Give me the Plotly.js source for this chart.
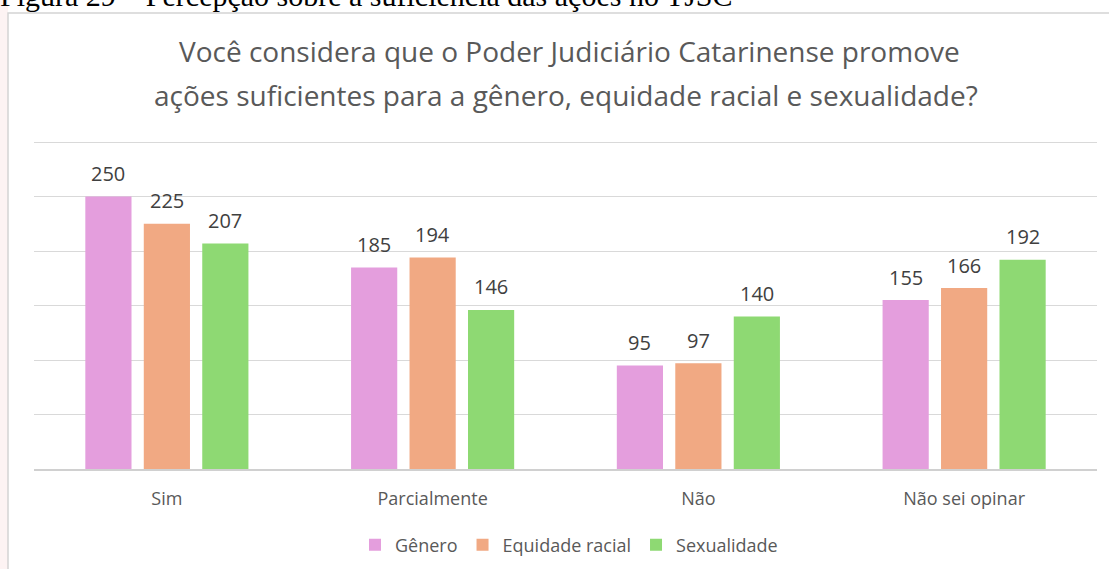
<!DOCTYPE html>
<html>
<head>
<meta charset="utf-8">
<script src="https://cdn.plot.ly/plotly-3.0.1.min.js"></script>
<style>
  html, body { margin: 0; padding: 0; background: #ffffff; }
  #grafico { width: 1109px; height: 569px; }
</style>
</head>
<body>
<div id="grafico"></div>
<script>
// dados
var categorias = ['Sim', 'Parcialmente', 'Não', 'Não sei opinar'];
var genero = [250, 185, 95, 155];
var equidadeRacial = [225, 194, 97, 166];
var sexualidade = [207, 146, 140, 192];

var series = [
    { name: 'Gênero', values: genero, color: '#E49EDD' },
    { name: 'Equidade racial', values: equidadeRacial, color: '#F1A983' },
    { name: 'Sexualidade', values: sexualidade, color: '#8ED973' }
];

var corTexto = '#595959';
var fonte = 'Open Sans, Noto Sans, sans-serif';
var bargap = 0.34;

// plot area in pixels: x 34..1097, y 141..469
var W = 1109, H = 569;
var margem = { l: 34, r: 12, t: 141, b: 100 };
var plotW = W - margem.l - margem.r;
var plotH = H - margem.t - margem.b;
function px2x(px) { return (px - margem.l) / plotW; }
function px2y(py) { return (H - margem.b - py) / plotH; }

var data = series.map(function (s) {
    return {
        type: 'bar',
        name: s.name,
        x: categorias,
        y: s.values,
        marker: { color: s.color, line: { width: 0 } },
        hoverinfo: 'x+y+name'
    };
});

// rótulos de valor acima das barras
var anotacoes = [];
var slot = (1 - bargap) / series.length;
series.forEach(function (s, k) {
    s.values.forEach(function (v, j) {
        anotacoes.push({
            x: j + (k - (series.length - 1) / 2) * slot,
            y: v,
            xref: 'x', yref: 'y',
            text: String(v),
            showarrow: false,
            yanchor: 'middle',
            yshift: 23,
            font: { family: fonte, size: 20, color: '#404040' }
        });
    });
});

// título em duas linhas
anotacoes.push({
    xref: 'paper', yref: 'paper', x: px2x(569), y: px2y(51),
    text: 'Você considera que o Poder Judiciário Catarinense promove',
    showarrow: false, xanchor: 'center', yanchor: 'middle',
    font: { family: fonte, size: 28, color: corTexto }
});
anotacoes.push({
    xref: 'paper', yref: 'paper', x: px2x(566), y: px2y(95),
    text: 'ações suficientes para a gênero, equidade racial e sexualidade?',
    showarrow: false, xanchor: 'center', yanchor: 'middle',
    font: { family: fonte, size: 28, color: corTexto }
});

// legenda da figura (cortada no topo)
anotacoes.push({
    xref: 'paper', yref: 'paper', x: px2x(-2), y: px2y(-5),
    text: 'Figura 29 – Percepção sobre a suficiência das ações no TJSC',
    showarrow: false, xanchor: 'left', yanchor: 'middle',
    font: { family: 'Liberation Serif, Times New Roman, serif', size: 30, color: '#000000' }
});

var layout = {
    width: W,
    height: H,
    margin: margem,
    paper_bgcolor: '#ffffff',
    plot_bgcolor: '#ffffff',
    barmode: 'group',
    bargap: bargap,
    bargroupgap: 0.21,
    font: { family: fonte, color: corTexto },
    xaxis: {
        type: 'category',
        automargin: false,
        showgrid: false,
        showline: true,
        linecolor: '#d0d0d0',
        linewidth: 1.5,
        ticks: '',
        ticklabelstandoff: 13,
        tickfont: { family: fonte, size: 18, color: corTexto },
        fixedrange: true
    },
    yaxis: {
        range: [0, 301],
        dtick: 50,
        automargin: false,
        showgrid: true,
        gridcolor: '#d9d9d9',
        gridwidth: 1,
        zeroline: false,
        showticklabels: false,
        ticks: '',
        fixedrange: true
    },
    showlegend: true,
    legend: {
        orientation: 'h',
        xref: 'container',
        yref: 'container',
        xanchor: 'center',
        x: 569 / W,
        yanchor: 'middle',
        y: (H - 545) / H,
        font: { family: fonte, size: 18, color: corTexto },
        itemwidth: 30,
        traceorder: 'normal'
    },
    annotations: anotacoes,
    shapes: [
        {
            type: 'rect', xref: 'paper', yref: 'paper', layer: 'below',
            x0: px2x(-5), x1: px2x(8), y0: px2y(575), y1: px2y(-5),
            fillcolor: '#fdf3f3', line: { width: 0 }
        },
        {
            type: 'rect', xref: 'paper', yref: 'paper', layer: 'below',
            x0: px2x(8), x1: px2x(1120), y0: px2y(580), y1: px2y(13),
            fillcolor: 'rgba(0,0,0,0)', line: { color: '#d4d4d4', width: 1.5 }
        }
    ]
};

Plotly.newPlot('grafico', data, layout, { displayModeBar: false, staticPlot: true });
</script>
</body>
</html>
